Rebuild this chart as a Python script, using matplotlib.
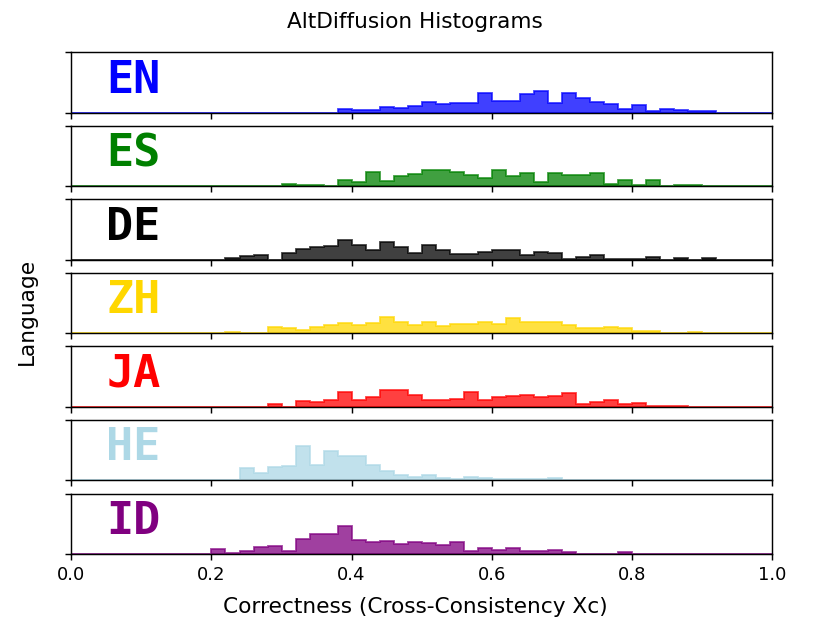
'''
AltDiffusion: histograms of correctness per language
'''
import numpy as np
import matplotlib
matplotlib.use("Agg")
import matplotlib.pyplot as plt

langs = ["EN", "ES", "DE", "ZH", "JA", "HE", "ID"]
colors = ["blue", "green", "black", "gold", "red", "lightblue", "purple"]

# bin heights, 50 bins of width 0.02 over [0, 1]
en = [0, 0, 0, 0, 0, 0, 0, 0, 0, 0,
      0, 0, 0, 0, 0, 0, 0, 0, 0, 3.7,
      2.3, 2.3, 6, 4.7, 7, 11, 8.3, 10, 10, 19.7,
      12, 12, 18.7, 22, 9.7, 19.7, 14.3, 11, 8.7, 3.3,
      7.3, 2, 3.7, 2.3, 1.3, 1.3, 0, 0, 0, 0]
es = [0, 0, 0, 0, 0, 0, 0, 0, 0, 0,
      0, 0, 0, 0, 0, 2.3, 1, 1, 0, 6,
      4.3, 14.3, 5.3, 9.7, 12, 16, 16, 14.3, 10.7, 8.3,
      15.7, 10.3, 13, 3.7, 13, 10.7, 10.7, 13, 2, 5.7,
      1, 5.7, 0, 1, 1, 0, 0, 0, 0, 0]
de = [0, 0, 0, 0, 0, 0, 0, 0, 0, 0,
      0, 2, 3.3, 4.7, 0, 6.7, 11, 12.3, 13.3, 19.3,
      14.7, 9.3, 18, 13, 7, 14.3, 9.3, 6, 6, 7.3,
      9.7, 9.7, 4.3, 7.7, 6.3, 1, 2.7, 5, 1, 1,
      1, 2.7, 0, 1.3, 0, 1.3, 0, 0, 0, 0]
zh = [0, 0, 0, 0, 0, 0, 0, 0, 0, 0,
      0, 1, 0, 0, 6, 5, 3.3, 6, 8.3, 9.7,
      8.3, 9.7, 15.7, 10.7, 8, 10.7, 7, 9.3, 9.3, 10.7,
      9.3, 14.7, 10.7, 10.7, 10.7, 7.7, 5, 5, 6, 5,
      2.3, 2.3, 0, 0, 1, 0, 0, 0, 0, 0]
ja = [0, 0, 0, 0, 0, 0, 0, 0, 0, 0,
      0, 0, 0, 0, 2.3, 0, 6, 5, 7, 14.3,
      7, 9.7, 17, 17, 12, 7, 7, 8, 14.3, 6.3,
      9.3, 11, 12, 9.3, 11, 13.3, 2.3, 4.7, 7, 2.3,
      3.7, 1, 1, 1, 0, 0, 0, 0, 0, 0]
he = [0, 0, 0, 0, 0, 0, 0, 0, 0, 0,
      0, 0.7, 12, 7, 13, 14.3, 33.7, 15.3, 29, 24,
      24, 15.3, 9.7, 5.7, 3.3, 5.7, 2.3, 1, 3.7, 2.7,
      1.3, 1.3, 1.3, 1.3, 2.3, 0, 0, 0, 0, 0,
      0, 0, 0, 0, 0, 0, 0, 0, 0, 0]
id_ = [0, 0, 0, 0, 0, 0, 0, 0, 0, 0,
       4.7, 1.3, 3.3, 7.3, 8.3, 3.3, 14.7, 19.7, 19.7, 28,
       13.7, 12, 13, 10, 12, 10.3, 9, 11.3, 3.3, 5.7,
       3.7, 5.7, 2.7, 2.7, 4.3, 1.7, 0, 0, 0, 2.3,
       0, 0, 0, 0, 0, 0, 0, 0, 0, 0]
heights = [en, es, de, zh, ja, he, id_]

edges = np.linspace(0, 1, 51)
centers = (edges[:-1] + edges[1:]) / 2
ytop = 60

fig, axs = plt.subplots(7, 1, sharex=True, figsize=(830/130, 623/130), dpi=130)
fig.subplots_adjust(left=0.086, right=0.930, top=0.916, bottom=0.111, hspace=0.22)

for ax, lang, c, h in zip(axs, langs, colors, heights):
    ax.hist(centers, bins=edges, weights=h, histtype="stepfilled",
            color=c, edgecolor=c, alpha=0.75, lw=1)
    ax.set_xlim(0, 1)
    ax.set_ylim(0, ytop)
    ax.set_yticks([0, ytop])
    ax.tick_params(axis="y", labelleft=False)
    ax.text(0.05, 0.333, lang, transform=ax.transAxes, color=c,
            fontsize=25, fontweight="bold", family="DejaVu Sans Mono",
            va="baseline", ha="left")

axs[-1].set_xticks([0, 0.2, 0.4, 0.6, 0.8, 1.0])
fig.suptitle("AltDiffusion Histograms")
fig.supxlabel("Correctness (Cross-Consistency Xc)")
fig.supylabel("Language")

plt.savefig("out.png", dpi=130)
